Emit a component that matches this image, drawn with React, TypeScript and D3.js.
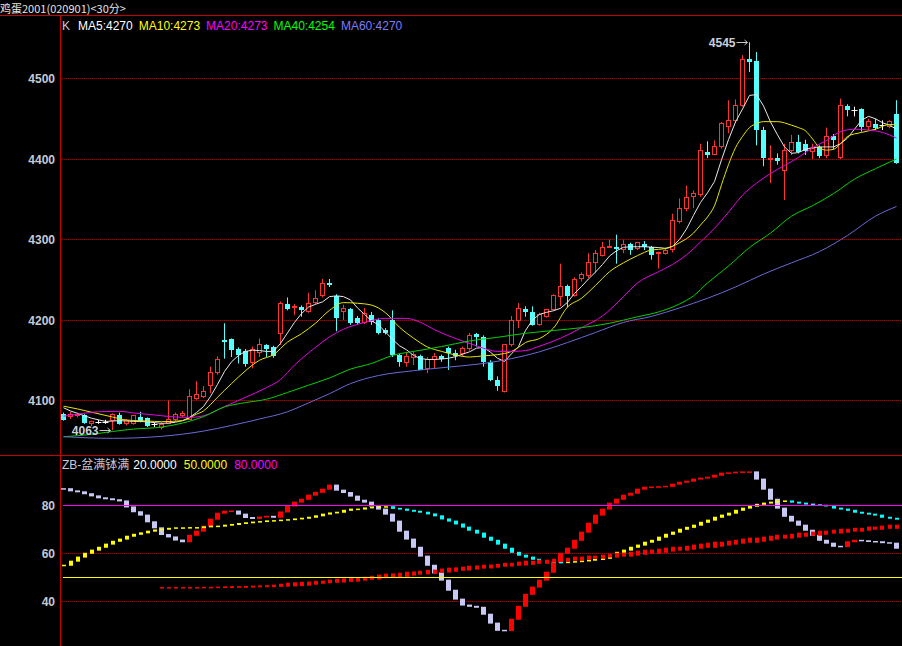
import React from "react";
import * as d3 from "d3";

// ---- values ----
const title = "鸡蛋2001(020901)<30分>";
const kLabel = "K";
const maLabels = ["MA5:4270", "MA10:4273", "MA20:4273", "MA40:4254", "MA60:4270"];
const zbTitle = "ZB-盆满钵满";
const zbLabels = ["20.0000", "50.0000", "80.0000"];
const priceTicks = [4100, 4200, 4300, 4400, 4500];
const zbTicks = [40, 60, 80];
const zbDotted = [40, 60];

const opens = [
  4083, 4080, 4081, 4082, 4071, 4073, 4073, 4075, 4082, 4071,
  4072, 4080, 4078, 4070, 4067, 4072, 4077, 4081, 4077, 4103,
  4105, 4119, 4135, 4175, 4176, 4164, 4161, 4147, 4160, 4169,
  4166, 4183, 4220, 4215, 4216, 4211, 4222, 4230, 4246, 4230,
  4210, 4214, 4203, 4197, 4206, 4200, 4188, 4200, 4157, 4147,
  4154, 4155, 4140, 4151, 4155, 4165, 4159, 4158, 4164, 4182,
  4179, 4148, 4126, 4111, 4169, 4200, 4214, 4210, 4195, 4204,
  4213, 4229, 4242, 4231, 4251, 4255, 4271, 4280, 4290, 4291,
  4288, 4294, 4289, 4294, 4291, 4282, 4283, 4287, 4322, 4338,
  4353, 4356, 4409, 4406, 4415, 4440, 4448, 4467, 4524, 4522,
  4436, 4400, 4401, 4386, 4410, 4421, 4419, 4409, 4415, 4404,
  4428, 4402, 4466, 4460, 4462, 4440, 4444, 4442, 4440, 4456,
];
const highs = [
  4085, 4086, 4085, 4083, 4075, 4076, 4076, 4084, 4085, 4077,
  4082, 4086, 4079, 4073, 4073, 4100, 4085, 4087, 4114, 4124,
  4118, 4142, 4155, 4196, 4177, 4166, 4164, 4167, 4177, 4170,
  4168, 4223, 4228, 4220, 4218, 4234, 4237, 4251, 4251, 4232,
  4219, 4215, 4205, 4215, 4210, 4202, 4190, 4212, 4158, 4159,
  4161, 4157, 4154, 4159, 4157, 4167, 4163, 4167, 4184, 4184,
  4181, 4150, 4130, 4170, 4205, 4221, 4217, 4217, 4209, 4214,
  4232, 4270, 4244, 4253, 4259, 4283, 4287, 4297, 4300, 4306,
  4300, 4296, 4297, 4298, 4292, 4285, 4290, 4332, 4351, 4367,
  4361, 4419, 4422, 4423, 4446, 4473, 4474, 4529, 4545, 4533,
  4440, 4417, 4407, 4419, 4430, 4430, 4424, 4419, 4417, 4439,
  4431, 4475, 4468, 4465, 4463, 4450, 4450, 4448, 4448, 4473,
];
const lows = [
  4075, 4077, 4079, 4071, 4068, 4071, 4071, 4063, 4070, 4069,
  4070, 4073, 4067, 4067, 4064, 4071, 4074, 4079, 4076, 4101,
  4103, 4109, 4132, 4152, 4154, 4146, 4142, 4140, 4154, 4154,
  4153, 4169, 4212, 4206, 4204, 4209, 4220, 4228, 4241, 4186,
  4200, 4194, 4194, 4195, 4194, 4182, 4182, 4154, 4142, 4142,
  4144, 4138, 4134, 4140, 4148, 4138, 4150, 4155, 4162, 4167,
  4142, 4124, 4112, 4110, 4167, 4190, 4204, 4193, 4193, 4203,
  4212, 4217, 4216, 4229, 4248, 4252, 4258, 4279, 4290, 4270,
  4283, 4281, 4287, 4287, 4275, 4264, 4281, 4284, 4320, 4335,
  4339, 4353, 4401, 4405, 4413, 4432, 4445, 4465, 4508, 4417,
  4391, 4370, 4393, 4349, 4405, 4407, 4405, 4400, 4401, 4401,
  4412, 4400, 4453, 4453, 4434, 4436, 4436, 4436, 4438, 4394,
];
const closes = [
  4076, 4083, 4083, 4072, 4074, 4073, 4073, 4082, 4071, 4075,
  4081, 4075, 4068, 4070, 4070, 4077, 4083, 4084, 4105, 4107,
  4111, 4135, 4151, 4173, 4163, 4157, 4145, 4163, 4169, 4164,
  4155, 4220, 4214, 4217, 4213, 4221, 4227, 4245, 4244, 4202,
  4214, 4196, 4196, 4208, 4198, 4184, 4184, 4157, 4148, 4155,
  4157, 4138, 4151, 4155, 4152, 4159, 4155, 4164, 4181, 4179,
  4148, 4126, 4118, 4169, 4200, 4214, 4210, 4194, 4207, 4213,
  4231, 4242, 4230, 4250, 4256, 4272, 4282, 4290, 4291, 4288,
  4294, 4287, 4296, 4291, 4281, 4284, 4286, 4323, 4339, 4352,
  4357, 4410, 4405, 4415, 4444, 4448, 4467, 4523, 4521, 4436,
  4401, 4401, 4398, 4411, 4421, 4409, 4410, 4413, 4404, 4428,
  4424, 4467, 4461, 4460, 4440, 4446, 4438, 4442, 4446, 4395,
];

// MA5 read for every bar
const ma5 = [
  4091, 4087, 4084, 4081, 4078, 4076, 4074, 4074.5, 4075, 4074.5,
  4074, 4074, 4073.5, 4072.5, 4071.6, 4072, 4073, 4075, 4079, 4085,
  4092.5, 4105, 4120, 4136, 4148, 4156, 4161, 4162.5, 4162, 4161,
  4161, 4171, 4184, 4197, 4208, 4216, 4219.5, 4222.5, 4229, 4230,
  4229, 4225, 4215, 4207, 4199, 4194, 4185, 4176, 4168, 4163,
  4156, 4152, 4151, 4151, 4151.5, 4152.5, 4154.5, 4157.5, 4160.5, 4165,
  4166, 4160, 4152.5, 4148.5, 4158, 4167, 4187, 4200, 4207, 4209.5,
  4211.5, 4214.5, 4222, 4233, 4241.5, 4251, 4259.5, 4269, 4279.5, 4286,
  4290.3, 4291, 4291, 4291, 4290.5, 4290, 4289, 4291.5, 4300, 4313,
  4330, 4346, 4358, 4372, 4399, 4424, 4446, 4462, 4479, 4480,
  4466, 4446, 4430, 4415, 4407, 4408, 4412, 4414, 4415, 4415,
  4415, 4419, 4426, 4437, 4448, 4453, 4450, 4445, 4442, 4437,
];

type Pt = [number, number];
// slower averages read as [bar, value]
const ma10: Pt[] = [
  [0, 4093], [2, 4089.5], [4, 4085.5], [7, 4079.5], [9, 4075.7], [12, 4074.5], [14, 4073.7],
  [17, 4075], [19, 4083], [20, 4087], [21, 4095], [22, 4104], [24, 4121], [26, 4137],
  [28, 4150], [30, 4157], [32, 4172.5], [34, 4183], [36, 4196], [38, 4212], [40, 4221.6],
  [42, 4220.8], [44, 4218.5], [46, 4209], [48, 4191], [50, 4177.5], [52, 4166.5], [54, 4161],
  [56, 4156.5], [58, 4154], [60, 4155.5], [62, 4157], [64, 4161], [65, 4166], [66, 4172],
  [68, 4177], [70, 4190], [72, 4216], [74, 4227], [76, 4243], [78, 4260], [80, 4271],
  [82, 4280], [84, 4287], [86, 4288.6], [88, 4296], [90, 4308], [91, 4318], [92, 4328],
  [93, 4342], [94, 4368], [95, 4393], [96, 4414], [97, 4428], [98, 4439], [99, 4444],
  [100, 4446.4], [102, 4446.4], [104, 4442], [105, 4439], [106, 4435], [107, 4425],
  [108, 4414], [109, 4411], [110, 4412], [111, 4419], [112, 4428], [114, 4433],
  [116, 4437], [118, 4443], [119, 4442],
];
const ma20: Pt[] = [
  [0, 4080.5], [2, 4083], [5, 4086], [8, 4086.5], [10, 4084.5], [13, 4082], [16, 4079.5],
  [18, 4079], [20, 4081], [23, 4092.5], [26, 4104], [29, 4116], [31, 4126], [33, 4144],
  [36, 4166], [38, 4179], [40, 4188.5], [43, 4197], [46, 4202], [49, 4202], [51, 4197],
  [53, 4188], [56, 4177], [59, 4168], [62, 4161], [64, 4161], [66, 4162], [68, 4167.5],
  [71, 4177.3], [74, 4190.5], [77, 4205], [80, 4229], [82, 4246], [85, 4260], [87, 4269],
  [89, 4281], [91, 4297], [93, 4314], [95, 4334], [97, 4355], [99, 4370], [101, 4382],
  [103, 4392], [105, 4402], [107, 4414], [109, 4423], [111, 4434], [113, 4437],
  [115, 4436], [117, 4433], [119, 4426],
];
const ma40: Pt[] = [
  [0, 4055], [4, 4058], [7, 4061.5], [10, 4064.5], [14, 4067], [17, 4072], [20, 4080],
  [23, 4092], [26, 4097.4], [29, 4101.6], [32, 4110], [35, 4119], [38, 4128], [41, 4139],
  [44, 4146], [47, 4156], [50, 4161], [54, 4167], [58, 4174], [62, 4178.5], [66, 4183.5],
  [70, 4187], [74, 4190.5], [78, 4196], [82, 4204], [85, 4210], [88, 4220], [90, 4230],
  [92, 4246], [95, 4267], [98, 4290], [101, 4308], [104, 4329], [107, 4342], [110, 4357],
  [113, 4375], [116, 4388], [119, 4400],
];
const ma60: Pt[] = [
  [0, 4055], [7, 4053], [14, 4055.5], [20, 4062], [24, 4069], [28, 4077], [32, 4086],
  [35, 4097], [38, 4108.5], [41, 4121], [45, 4131], [50, 4137], [55, 4141.5], [60, 4146],
  [64, 4152], [68, 4160.5], [72, 4172], [76, 4184.5], [80, 4197], [84, 4204.5], [88, 4215],
  [92, 4227], [96, 4241], [100, 4257], [104, 4271], [108, 4285], [112, 4305], [116, 4329],
  [119, 4341],
];

// 盆满钵满 indicator, one value per bar
const zbA = [
  87.0, 86.1, 85.7, 84.9, 84.0, 83.2, 82.8, 82.4, 81.9, 79.4,
  77.4, 76.0, 73.2, 70.7, 67.9, 66.9, 65.6, 64.9, 67.6, 69.3,
  71.4, 74.3, 76.8, 77.6, 77.7, 76.4, 75.0, 74.6, 75.2, 75.5,
  75.1, 77.3, 79.8, 81.4, 82.6, 84.3, 85.5, 86.8, 88.5, 86.4,
  85.4, 83.9, 82.2, 81.4, 79.8, 78.5, 76.4, 73.5, 69.3, 66.0,
  62.6, 58.9, 55.1, 51.9, 48.9, 44.7, 41.0, 38.5, 38.0, 37.6,
  34.7, 31.0, 28.0, 27.9, 32.6, 38.0, 43.0, 46.0, 48.9, 52.2,
  56.4, 60.1, 62.2, 65.5, 68.9, 72.6, 76.0, 78.5, 81.0, 82.6,
  84.3, 85.1, 86.8, 87.6, 87.7, 87.8, 88.0, 88.9, 89.7, 90.1,
  91.0, 91.4, 91.8, 92.6, 93.5, 93.6, 93.9, 94.0, 94.0, 91.0,
  86.8, 82.6, 78.9, 75.5, 73.5, 71.8, 69.7, 67.6, 65.5, 64.3,
  63.0, 62.9, 64.9, 65.5, 65.3, 65.0, 64.9, 64.5, 64.3, 62.2,
];
const zbB = [
  55.1, 56.8, 58.5, 60.1, 61.4, 62.6, 63.9, 65.1, 66.0, 67.2,
  68.0, 68.6, 69.3, 69.8, 70.1, 70.5, 70.7, 70.7, 70.8, 70.8,
  71.1, 71.4, 71.4, 71.8, 72.1, 72.5, 72.8, 73.1, 73.3, 73.6,
  73.7, 73.9, 74.1, 74.4, 74.7, 75.1, 75.7, 76.4, 76.9, 77.2,
  78.0, 78.5, 78.5, 79.0, 79.3, 79.4, 79.5, 78.8, 78.5, 78.0,
  77.6, 77.2, 76.5, 75.7, 74.4, 73.5, 72.3, 71.0, 69.7, 68.5,
  66.8, 65.5, 63.9, 62.2, 60.5, 59.3, 58.5, 57.6, 56.8, 56.5,
  56.3, 56.2, 56.4, 56.6, 56.9, 57.2, 57.5, 58.0, 59.2, 60.5,
  61.4, 62.6, 63.5, 64.7, 65.5, 66.8, 68.0, 68.9, 70.1, 70.9,
  71.8, 73.0, 73.9, 75.1, 76.0, 76.8, 78.0, 78.9, 79.7, 80.5,
  81.0, 81.4, 81.8, 81.9, 81.4, 81.0, 80.6, 80.3, 80.1, 79.8,
  78.9, 78.5, 78.0, 77.2, 76.8, 76.4, 76.0, 75.1, 74.7, 74.3,
];
const zbCStart = 14;
const zbC = [
  45.8, 45.8, 45.8, 45.8, 45.8, 45.8, 45.9, 45.9, 46.0, 46.1,
  46.2, 46.2, 46.3, 46.4, 46.5, 46.6, 46.8,
  47.2, 47.6, 47.8, 48.0, 48.1, 48.4, 48.5, 48.9, 49.3, 49.4,
  49.9, 50.0, 50.1, 50.5, 51.0, 51.4, 51.5, 51.8, 52.2, 52.3,
  52.6, 53.0, 53.1, 53.5, 53.9, 54.0, 54.3, 54.7, 54.8, 55.1,
  55.2, 55.5,
  55.9, 55.9, 56.4, 56.8, 56.8, 57.2, 57.2, 57.6, 58.0, 58.0,
  58.5, 58.5, 58.9, 58.9, 59.3, 59.7, 60.1, 60.1, 60.5, 61.0,
  61.4, 61.4, 61.8, 62.2, 62.6, 62.6, 63.0, 63.5, 63.9, 64.3,
  64.7, 64.7, 65.1, 65.5, 66.0, 66.4, 66.4, 66.8, 67.2, 67.6,
  67.6, 68.0, 68.5, 68.5, 68.9, 69.3, 69.3, 69.7, 70.1, 70.1,
  70.5, 70.5, 71.0, 71.0, 71.4, 71.8, 71.8,
];

const W = 902;
const H = 646;
const FRAME = "#c80000";
const GRID = "#9a0000";
const UP = "#ff3232";
const DOWN = "#54ffff";
const AXIS = "#c4cad6";
const maLineColors = ["#e8e8e8", "#e6e600", "#e600e6", "#00d200", "#6a6ad6"];
const maTextColors = ["#ffffff", "#ffff00", "#ff00ff", "#00ff00", "#7c7cff"];
const SANS = "'Liberation Sans', Arial, 'Noto Sans CJK SC', sans-serif";

export default function App() {
  const n = closes.length;
  const x = d3.scaleLinear().domain([0, n - 1]).range([63.5, 896.5]);
  const yK = d3.scaleLinear().domain([4100, 4500]).range([400.5, 78.5]);
  const yZ = d3.scaleLinear().domain([40, 80]).range([601.5, 505.5]);
  const px = (v: number) => Math.round(v - 0.5) + 0.5;

  const lineFull = d3
    .line<number>()
    .x((_, i) => x(i))
    .y((d) => yK(d));
  const lineSparse = d3
    .line<Pt>()
    .x((d) => x(d[0]))
    .y((d) => yK(d[1]))
    .curve(d3.curveMonotoneX);

  const hiI = d3.maxIndex(highs);
  const loI = d3.minIndex(lows);

  // stick from an earlier value to the current one, coloured by direction
  const sticks = (
    vals: number[],
    start: number,
    lag: number,
    w: number,
    upC: string,
    downC: string,
    key: string
  ) =>
    vals.map((v, j) => {
      const i = start + j;
      const prev = vals[Math.max(0, j - lag)];
      const rising = j === 0 ? vals[1] >= v : v >= prev;
      const y0 = yZ(prev);
      const y1 = yZ(v);
      const top = Math.min(y0, y1) - 0.5;
      const h = Math.max(Math.abs(y1 - y0) + 1, 1.5);
      return (
        <rect
          key={key + i}
          x={Math.round(x(i) - w / 2)}
          y={top}
          width={w}
          height={h}
          fill={rising ? upC : downC}
        />
      );
    });

  const candles = closes.map((c, i) => {
    const o = opens[i];
    const cx = x(i);
    const yH = yK(highs[i]);
    const yL = yK(lows[i]);
    const yT = yK(Math.max(o, c));
    const yB = yK(Math.min(o, c));
    if (o === c) {
      const yy = px(yT);
      return (
        <g key={"k" + i} stroke="#ffffff" strokeWidth={1}>
          <line x1={cx} x2={cx} y1={yH} y2={yL} />
          <line x1={cx - 3} x2={cx + 3} y1={yy} y2={yy} />
        </g>
      );
    }
    if (c > o) {
      const t = px(yT);
      const b = Math.max(px(yB), t + 1);
      return (
        <g key={"k" + i} stroke={UP} strokeWidth={1}>
          <line x1={cx} x2={cx} y1={yH} y2={t} />
          <line x1={cx} x2={cx} y1={b} y2={yL} />
          <rect x={cx - 2} y={t} width={4} height={b - t} fill="#000" />
        </g>
      );
    }
    const t = Math.round(yT);
    const b = Math.max(Math.round(yB), t + 1);
    return (
      <g key={"k" + i}>
        <line x1={cx} x2={cx} y1={yH} y2={yL} stroke={DOWN} strokeWidth={1} />
        <rect x={cx - 2.5} y={t} width={5} height={b - t} fill={DOWN} />
      </g>
    );
  });

  const hiX = x(hiI);
  const hiY = px(yK(highs[hiI]));
  const loX = x(loI);
  const loY = px(yK(lows[loI]));
  const arrow = (ax: number, ay: number, key: string) => (
    <g key={key} stroke="#c8c8c8" strokeWidth={1} fill="none">
      <line x1={ax - 13} x2={ax - 2} y1={ay} y2={ay} />
      <path d={`M${ax - 5},${ay - 2.5}L${ax - 2},${ay}L${ax - 5},${ay + 2.5}`} />
    </g>
  );

  const maSeries = [
    lineFull(ma5),
    lineSparse(ma10),
    lineSparse(ma20),
    lineSparse(ma40),
    lineSparse(ma60),
  ];

  return (
    <div>
      <style>{"body{margin:0;background:#000;}"}</style>
      <svg width={W} height={H} style={{ display: "block", background: "#000" }}>
        <rect x={0} y={0} width={W} height={H} fill="#000" />

        {/* title */}
        <text x={0} y={13} fill="#e4e4e4" fontSize={11} fontFamily="'Noto Sans CJK SC', sans-serif">
          {title}
        </text>

        {/* gridlines */}
        {priceTicks.map((t) => (
          <line
            key={"g" + t}
            x1={62}
            x2={W}
            y1={px(yK(t))}
            y2={px(yK(t))}
            stroke={GRID}
            strokeDasharray="1 1"
          />
        ))}
        {zbDotted.map((t) => (
          <line
            key={"zg" + t}
            x1={62}
            x2={W}
            y1={px(yZ(t))}
            y2={px(yZ(t))}
            stroke={GRID}
            strokeDasharray="1 1"
          />
        ))}

        {/* frame */}
        <line x1={0} x2={W} y1={15.5} y2={15.5} stroke={FRAME} />
        <line x1={0} x2={W} y1={455.5} y2={455.5} stroke={FRAME} />
        <line x1={60.5} x2={60.5} y1={15} y2={H} stroke={FRAME} />

        {/* axis labels */}
        <g fontFamily={SANS} fontSize={12} fontWeight="bold" fill={AXIS} textAnchor="end">
          {priceTicks.map((t) => (
            <text key={"pt" + t} x={55} y={yK(t) + 4.5}>
              {t}
            </text>
          ))}
          {zbTicks.map((t) => (
            <text key={"zt" + t} x={55} y={yZ(t) + 4.5}>
              {t}
            </text>
          ))}
        </g>

        {/* legends */}
        <text x={62} y={30} fontFamily={SANS} fontSize={12}>
          <tspan fill="#c8c8dc">{kLabel}</tspan>
          {maLabels.map((l, i) => (
            <tspan key={l} dx={i === 0 ? 8 : 6} fill={maTextColors[i]}>
              {l}
            </tspan>
          ))}
        </text>
        <text x={62} y={469} fontFamily={SANS} fontSize={12}>
          <tspan fill="#c8c8dc">{zbTitle}</tspan>
          <tspan dx={4} fill="#ffffff">{zbLabels[0]}</tspan>
          <tspan dx={7} fill="#ffff00">{zbLabels[1]}</tspan>
          <tspan dx={7} fill="#ff00ff">{zbLabels[2]}</tspan>
        </text>

        {/* candles */}
        {candles}

        {/* moving averages */}
        {maSeries.map((d, i) => (
          <path key={"ma" + i} d={d ?? ""} fill="none" stroke={maLineColors[i]} strokeWidth={1} />
        ))}

        {/* high / low marks */}
        <text x={hiX - 14} y={hiY + 4.5} textAnchor="end" fontFamily={SANS} fontSize={12} fontWeight="bold" fill="#c8d0dc">
          {highs[hiI]}
        </text>
        {arrow(hiX, hiY, "hiA")}
        <text x={loX - 14} y={loY + 4.5} textAnchor="end" fontFamily={SANS} fontSize={12} fontWeight="bold" fill="#c8d0dc">
          {lows[loI]}
        </text>
        {arrow(loX, loY, "loA")}

        {/* indicator sticks */}
        {sticks(zbA, 0, 1, 5, "#ff0000", "#c8c8f4", "a")}
        {sticks(zbB, 0, 1, 4, "#ffff00", "#00ffff", "b")}
        {sticks(zbC, zbCStart, 5, 4, "#ff0000", "#ff0000", "c")}

        {/* indicator levels */}
        <line x1={63} x2={W} y1={px(yZ(80))} y2={px(yZ(80))} stroke="#ff00ff" />
        <line x1={63} x2={W} y1={px(yZ(50))} y2={px(yZ(50))} stroke="#ffff00" />
      </svg>
    </div>
  );
}
